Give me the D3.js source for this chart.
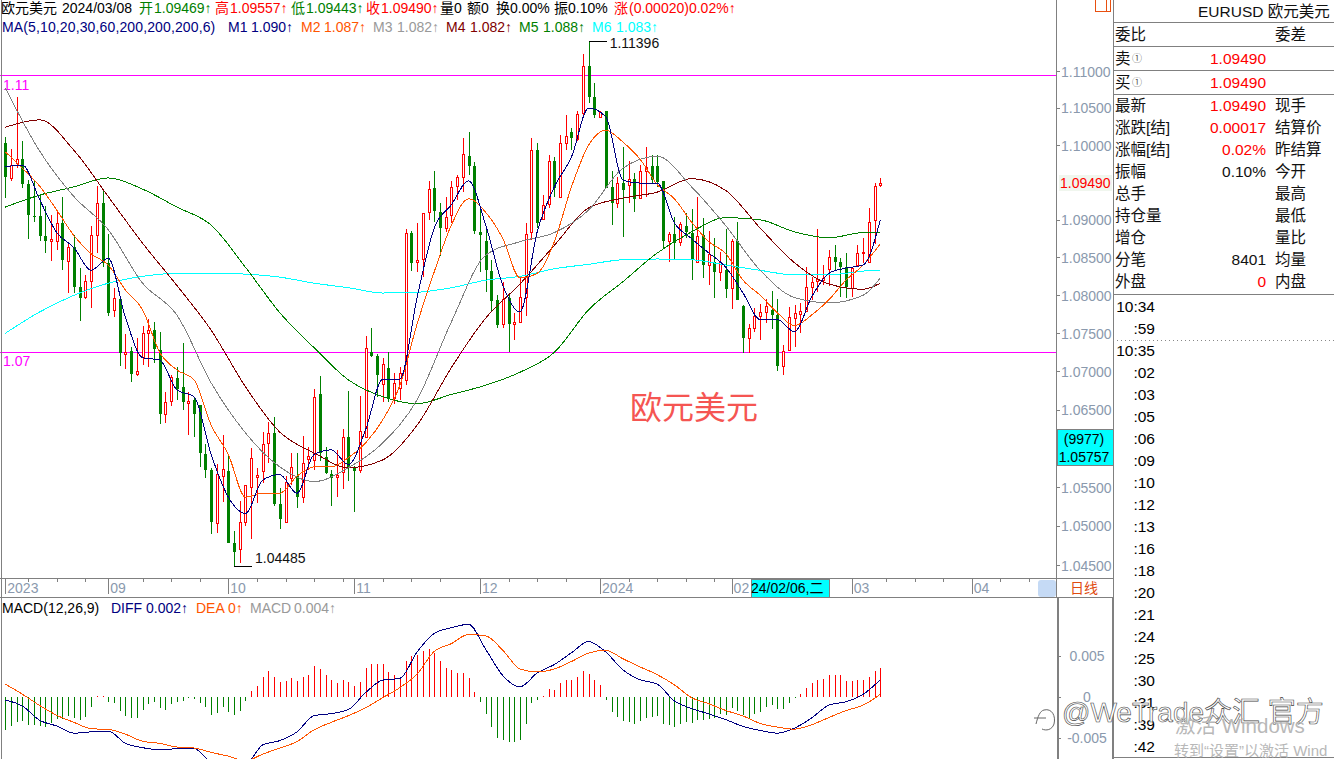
<!DOCTYPE html>
<head>
  <meta charset="utf-8">
  <script src="https://cdn.jsdelivr.net/npm/d3@7"></script>
  <style>
    html, body {
      margin: 0;
      width: 100%;
      height: 100%;
      overflow: hidden;
      background: #fff;
    }

    svg {
      display: block;
    }

    text {
      font-family: 'Liberation Sans', 'Noto Sans CJK SC', sans-serif;
      font-size: 14px;
      dominant-baseline: central;
    }

    .frame {
      stroke: #808080;
      fill: none;
      shape-rendering: crispEdges;
    }

    .axis path {
      display: none;
    }

    .axis line {
      stroke: #808080;
      shape-rendering: crispEdges;
    }

    .axis text {
      fill: #8a99ad;
      font-size: 14px;
    }

    .ma {
      fill: none;
      stroke-width: 1;
      shape-rendering: crispEdges;
    }

    .panel text {
      font-size: 15.5px;
    }
  </style>
</head>
<body>

<svg id="chart" width="1334" height="759"></svg>

<script>
  var opens = [
    1.1003, 1.0956, 1.0976, 1.0981, 1.0948, 1.0905, 1.0905, 1.0879, 1.0873, 1.0872,
    1.0896, 1.0845, 1.0864, 1.0811, 1.0798, 1.0819, 1.0880, 1.0923, 1.0843, 1.0781,
    1.0795, 1.0723, 1.0727, 1.0697, 1.0718, 1.0750, 1.0754, 1.0728, 1.0645, 1.0662,
    1.0691, 1.0680, 1.0660, 1.0663, 1.0656, 1.0593, 1.0572, 1.0504, 1.0564, 1.0571,
    1.0478, 1.0470, 1.0505, 1.0550, 1.0563, 1.0571, 1.0607, 1.0620, 1.0528, 1.0505,
    1.0562, 1.0564, 1.0537, 1.0586, 1.0585, 1.0671, 1.0589, 1.0567, 1.0563, 1.0570,
    1.0615, 1.0576, 1.0572, 1.0615, 1.0725, 1.0720, 1.0684, 1.0705, 1.0665, 1.0678,
    1.0689, 1.0883, 1.0844, 1.0848, 1.0910, 1.0943, 1.0910, 1.0889, 1.0906, 1.0945,
    1.0957, 1.0985, 1.0972, 1.0884, 1.0872, 1.0832, 1.0794, 1.0762, 1.0797, 1.0762,
    1.0765, 1.0798, 1.0883, 1.0993, 1.0901, 1.0921, 1.0979, 1.0931, 1.1003, 1.1018,
    1.1008, 1.1043, 1.1107, 1.1065, 1.1038, 1.1046, 1.0944, 1.0922, 1.0949, 1.0947,
    1.0955, 1.0929, 1.0965, 1.0972, 1.0972, 1.0952, 1.0872, 1.0881, 1.0871, 1.0892,
    1.0883, 1.0845, 1.0880, 1.0841, 1.0844, 1.0831, 1.0833, 1.0810, 1.0872, 1.0786,
    1.0744, 1.0757, 1.0773, 1.0778, 1.0781, 1.0774, 1.0707, 1.0728, 1.0771, 1.0775,
    1.0779, 1.0811, 1.0818, 1.0821, 1.0835, 1.0851, 1.0844, 1.0837, 1.0810, 1.0840,
    1.0856, 1.0844, 1.0899, 1.09469
  ];

  var highs = [
    1.1011, 1.0995, 1.1065, 1.1005, 1.0953, 1.0952, 1.0934, 1.0918, 1.0906, 1.0913,
    1.0930, 1.0869, 1.0880, 1.0836, 1.0827, 1.0892, 1.0945, 1.0940, 1.0881, 1.0810,
    1.0798, 1.0749, 1.0732, 1.0744, 1.0760, 1.0769, 1.0765, 1.0752, 1.0673, 1.0695,
    1.0706, 1.0737, 1.0673, 1.0667, 1.0656, 1.0605, 1.0575, 1.0580, 1.0617, 1.0590,
    1.0494, 1.0532, 1.0553, 1.0600, 1.0575, 1.0621, 1.0634, 1.0640, 1.0549, 1.0564,
    1.0594, 1.0594, 1.0616, 1.0602, 1.0677, 1.0694, 1.0602, 1.0572, 1.0598, 1.0625,
    1.0675, 1.0577, 1.0668, 1.0747, 1.0757, 1.0723, 1.0718, 1.0725, 1.0698, 1.0706,
    1.0888, 1.0885, 1.0896, 1.0909, 1.0952, 1.0965, 1.0923, 1.0930, 1.0952, 1.0960,
    1.1010, 1.1018, 1.0977, 1.0913, 1.0889, 1.0847, 1.0800, 1.0818, 1.0800, 1.0777,
    1.0824, 1.0896, 1.1010, 1.1003, 1.0933, 1.0987, 1.0984, 1.1014, 1.1041, 1.1023,
    1.1046, 1.1123, 1.11396, 1.1084, 1.1046, 1.1046, 1.0965, 1.0957, 1.0997, 1.0979,
    1.0963, 1.0973, 1.0998, 1.0987, 1.0987, 1.0952, 1.0884, 1.0904, 1.0897, 1.0909,
    1.0914, 1.0930, 1.0903, 1.0885, 1.0876, 1.0857, 1.0888, 1.0875, 1.0897, 1.0787,
    1.0762, 1.0783, 1.0788, 1.0795, 1.0806, 1.0795, 1.0735, 1.0784, 1.0787, 1.0790,
    1.0837, 1.0824, 1.0888, 1.0840, 1.0860, 1.0866, 1.0849, 1.0856, 1.0837, 1.0866,
    1.0876, 1.0916, 1.0949, 1.09557
  ];

  var lows = [
    1.0929, 1.0952, 1.0969, 1.0943, 1.0875, 1.0897, 1.0872, 1.0856, 1.0845, 1.0860,
    1.0833, 1.0803, 1.0803, 1.0766, 1.0795, 1.0783, 1.0856, 1.0837, 1.0773, 1.0771,
    1.0707, 1.0703, 1.0686, 1.0694, 1.0709, 1.0706, 1.0711, 1.0632, 1.0633, 1.0655,
    1.0663, 1.0650, 1.0617, 1.0615, 1.0576, 1.0562, 1.0490, 1.0491, 1.0531, 1.0478,
    1.04485, 1.0452, 1.0500, 1.0483, 1.0530, 1.0555, 1.0581, 1.0526, 1.0496, 1.0505,
    1.0553, 1.0523, 1.0530, 1.0572, 1.0572, 1.0584, 1.0567, 1.0525, 1.0537, 1.0548,
    1.0558, 1.0518, 1.0568, 1.0615, 1.0719, 1.0667, 1.0660, 1.0660, 1.0658, 1.0663,
    1.0682, 1.0832, 1.0831, 1.0824, 1.0900, 1.0897, 1.0852, 1.0884, 1.0896, 1.0926,
    1.0937, 1.0960, 1.0881, 1.0831, 1.0804, 1.0778, 1.0757, 1.0757, 1.0725, 1.0741,
    1.0765, 1.0773, 1.0873, 1.0889, 1.0900, 1.0916, 1.0930, 1.0930, 1.0993, 1.0993,
    1.1005, 1.1036, 1.1057, 1.1036, 1.1036, 1.0943, 1.0893, 1.0916, 1.0877, 1.0922,
    1.0910, 1.0928, 1.0930, 1.0949, 1.0944, 1.0863, 1.0844, 1.0847, 1.0865, 1.0876,
    1.0820, 1.0844, 1.0823, 1.0813, 1.0797, 1.0819, 1.0797, 1.0782, 1.0794, 1.0724,
    1.0724, 1.0752, 1.0741, 1.0763, 1.0756, 1.0701, 1.0695, 1.0727, 1.0732, 1.0750,
    1.0778, 1.0794, 1.0804, 1.0813, 1.0812, 1.0833, 1.0798, 1.0797, 1.0798, 1.0837,
    1.0843, 1.0844, 1.0868, 1.09443
  ];

  var closes = [
    1.0957, 1.0973, 1.0981, 1.0947, 1.0906, 1.0904, 1.0879, 1.0872, 1.0875, 1.0896,
    1.0847, 1.0864, 1.0811, 1.0797, 1.0819, 1.0880, 1.0922, 1.0843, 1.0777, 1.0797,
    1.0724, 1.0725, 1.0697, 1.0701, 1.0750, 1.0754, 1.0729, 1.0645, 1.0660, 1.0693,
    1.0676, 1.0660, 1.0662, 1.0645, 1.0594, 1.0572, 1.0505, 1.0567, 1.0573, 1.0478,
    1.0467, 1.0505, 1.0552, 1.0588, 1.0566, 1.0606, 1.0620, 1.0528, 1.0509, 1.0557,
    1.0576, 1.0537, 1.0581, 1.0590, 1.0667, 1.0594, 1.0568, 1.0562, 1.0566, 1.0615,
    1.0576, 1.0571, 1.0623, 1.0731, 1.0720, 1.0695, 1.0710, 1.0664, 1.0685, 1.0698,
    1.0883, 1.0843, 1.0847, 1.0909, 1.0941, 1.0912, 1.0889, 1.0904, 1.0944, 1.0957,
    1.0988, 1.0972, 1.0885, 1.0880, 1.0833, 1.0792, 1.0761, 1.0795, 1.0763, 1.0765,
    1.0798, 1.0881, 1.0993, 1.0896, 1.0920, 1.0979, 1.0943, 1.1003, 1.1012, 1.1010,
    1.1042, 1.1107, 1.1065, 1.1041, 1.1045, 1.0943, 1.0922, 1.0949, 1.0940, 1.0955,
    1.0928, 1.0965, 1.0971, 1.0953, 1.0951, 1.0872, 1.0881, 1.0869, 1.0895, 1.0884,
    1.0847, 1.0879, 1.0840, 1.0855, 1.0831, 1.0844, 1.0808, 1.0872, 1.0794, 1.0744,
    1.0757, 1.0773, 1.0778, 1.0786, 1.0774, 1.0707, 1.0727, 1.0771, 1.0777, 1.0779,
    1.0811, 1.0818, 1.0821, 1.0823, 1.0851, 1.0844, 1.0837, 1.0810, 1.0836, 1.0856,
    1.0857, 1.0897, 1.0945, 1.09490
  ];

  // read every third day
  var ma5 = [
    1.0971, 1.0973, 1.0927, 1.0883, 1.0863, 1.0833, 1.0849, 1.0771, 1.0718, 1.0715,
    1.0676, 1.0667, 1.0592, 1.0537, 1.0516, 1.0559, 1.0566, 1.0542, 1.0592, 1.0598,
    1.0579, 1.0624, 1.0690, 1.0690, 1.0797, 1.0889, 1.0920, 1.0952, 1.0893, 1.0813,
    1.0778, 1.0884, 1.0944, 1.0984, 1.1050, 1.1038, 1.0953, 1.0949, 1.0949, 1.0896,
    1.0875, 1.0856, 1.0837, 1.0803, 1.0768, 1.0768, 1.0752, 1.0798, 1.0829, 1.0836,
    1.0840, 1.0900
  ];

  var ma10 = [
    1.0991, 1.0969, 1.0945, 1.0913, 1.0879, 1.0855, 1.0840, 1.0807, 1.0781, 1.0725,
    1.0702, 1.0689, 1.0630, 1.0592, 1.0537, 1.0542, 1.0542, 1.0564, 1.0576, 1.0576,
    1.0588, 1.0607, 1.0637, 1.0682, 1.0762, 1.0831, 1.0893, 1.0928, 1.0910, 1.0875,
    1.0823, 1.0829, 1.0871, 1.0944, 1.1000, 1.1020, 1.1004, 1.0981, 1.0947, 1.0928,
    1.0897, 1.0871, 1.0855, 1.0820, 1.0800, 1.0777, 1.0760, 1.0774, 1.0794, 1.0820,
    1.0840, 1.0868
  ];

  // read every sixth day, plus the last one
  var ma20 = [
    1.1077, 1.0992, 1.0931, 1.0887, 1.0816, 1.0774, 1.0685, 1.0620, 1.0576, 1.0557,
    1.0575, 1.0607, 1.0663, 1.0765, 1.0853, 1.0871, 1.0883, 1.0913, 1.0969, 1.0985,
    1.0944, 1.0892, 1.0833, 1.0797, 1.0790, 1.0800, 1.0823
  ];

  var ma30 = [
    1.1024, 1.1034, 1.0993, 1.0931, 1.0869, 1.0813, 1.0754, 1.0680, 1.0621, 1.0594,
    1.0575, 1.0585, 1.0630, 1.0705, 1.0770, 1.0815, 1.0866, 1.0916, 1.0929, 1.0937,
    1.0955, 1.0939, 1.0889, 1.0843, 1.0815, 1.0808, 1.0816
  ];

  var ma60 = [
    1.0917, 1.0933, 1.0944, 1.0956, 1.0941, 1.0917, 1.0893, 1.0837, 1.0777, 1.0731,
    1.0689, 1.0667, 1.0658, 1.0670, 1.0682, 1.0699, 1.0725, 1.0781, 1.0818, 1.0856,
    1.0884, 1.0903, 1.0900, 1.0884, 1.0876, 1.0883, 1.0883
  ];

  var ma200 = [
    1.0750, 1.0778, 1.0800, 1.0816, 1.0825, 1.0829, 1.0829, 1.0828, 1.0824, 1.0816,
    1.0810, 1.0803, 1.0804, 1.0810, 1.0820, 1.0825, 1.0835, 1.0841, 1.0847, 1.0848,
    1.0847, 1.0840, 1.0833, 1.0827, 1.0827, 1.0832, 1.0833
  ];

  // macd values are in thousandths
  var macdHist = [
    -4.08, -3.59, -3.05, -2.97, -3.38, -3.46, -3.59, -3.67, -3.17, -2.68,
    -2.68, -2.35, -2.56, -2.84, -2.47, -1.20, 0.12, 0.12, -0.62, -0.78,
    -1.73, -2.35, -2.56, -2.56, -1.61, -0.82, -0.62, -1.40, -1.53, -0.82,
    -0.62, -0.49, -0.16, -0.21, -0.70, -1.20, -2.23, -1.94, -1.24, -1.85,
    -2.18, -1.73, -0.49, 0.74, 1.36, 2.39, 3.22, 2.47, 1.77, 1.98,
    2.31, 1.98, 2.39, 2.72, 3.83, 3.42, 2.72, 2.10, 1.73, 2.10,
    1.77, 1.36, 1.85, 3.50, 4.04, 4.04, 4.00, 3.09, 2.72, 2.39,
    4.45, 4.95, 5.07, 5.56, 5.89, 5.36, 4.33, 3.59, 3.30, 2.97,
    2.97, 2.35, 0.62, -0.62, -2.06, -3.71, -4.95, -5.24, -5.52, -5.52,
    -5.24, -3.30, -0.70, -0.37, 0.10, 0.95, 0.87, 1.69, 2.10, 2.10,
    2.39, 3.22, 2.84, 2.10, 1.48, -0.37, -1.85, -2.43, -2.97, -3.09,
    -3.34, -2.97, -2.51, -2.47, -2.35, -3.26, -3.46, -3.71, -3.34, -3.09,
    -3.22, -2.84, -2.84, -2.64, -2.51, -2.06, -2.14, -1.40, -1.73, -2.23,
    -2.64, -2.06, -1.77, -1.24, -0.99, -1.44, -1.48, -0.74, -0.08, 0.41,
    1.11, 1.65, 2.10, 2.18, 2.72, 2.72, 2.68, 1.98, 1.98, 2.10,
    2.10, 2.47, 3.22, 3.59
  ];

  var macdDiff = [
    -0.37, -1.11, -2.84, -3.54, -4.41, -4.25, -4.16, -5.65, -6.18, -6.43,
    -6.31, -6.27, -7.79, -7.79, -8.12, -5.85, -5.32, -4.25, -2.27, -2.02,
    -1.53, 0.54, 2.06, 2.27, 5.48, 7.75, 8.45, 8.86, 5.81, 2.60,
    1.24, 2.93, 3.96, 5.40, 6.76, 5.48, 3.30, 2.10, 1.57, -0.49,
    -1.40, -2.06, -2.76, -3.59, -4.08, -4.41, -3.79, -2.56, -0.99, -0.58,
    0.33, 2.10
  ];

  var macdDea = [
    1.57, 0.33, -1.03, -2.23, -3.09, -3.87, -3.96, -4.53, -5.40, -5.65,
    -6.10, -6.22, -6.76, -7.21, -7.79, -6.97, -6.22, -5.44, -4.00, -3.09,
    -2.27, -1.32, -0.08, 1.15, 2.80, 5.56, 6.51, 7.63, 7.46, 5.69,
    3.42, 3.05, 3.42, 4.33, 5.36, 5.69, 4.66, 3.67, 2.72, 1.48,
    -0.08, -0.82, -1.65, -2.31, -3.22, -3.67, -3.92, -3.38, -2.51, -1.65,
    -0.99, 0.33
  ];

  var priceTicks = [1.11, 1.105, 1.10, 1.09, 1.085, 1.08, 1.075, 1.07, 1.065, 1.055, 1.05, 1.045];
  var macdTicks = [5, 0, -5];
  var macdTickLabels = {'5': '0.005', '0': '0', '-5': '-0.005'};
  var monthIdx = [0, 18, 39, 61, 83, 104, 127, 148, 169];
  var monthLabels = ['2023', '09', '10', '11', '12', '2024', '02', '03', '04'];
  var weekIdx = [4, 9, 14, 24, 29, 34, 44, 49, 54, 59, 66, 71, 76, 88, 93, 98, 109, 114, 119, 124, 154, 159, 164, 174, 179];

  var levelPrices = [1.1094, 1.0726];
  var levelLabels = ['1.11', '1.07'];

  var maEvery3 = d3.range(0, 154, 3);
  var maEvery6 = d3.range(0, 153, 6).concat(153);

  var colors = {
    up: '#ff0000', down: '#008000', navy: '#000080', orange: '#ff5500',
    gray: '#808080', maroon: '#800000', green: '#008000', cyan: '#00ffff', magenta: '#ff00ff'
  };

  var maSeries = [
    {values: ma200, idx: maEvery6, color: colors.cyan},
    {values: ma60, idx: maEvery6, color: colors.green},
    {values: ma30, idx: maEvery6, color: colors.maroon},
    {values: ma20, idx: maEvery6, color: colors.gray},
    {values: ma10, idx: maEvery3, color: colors.orange},
    {values: ma5, idx: maEvery3, color: colors.navy}
  ];

  var svg = d3.select('#chart');

  var x = d3.scaleLinear().domain([0, 153]).range([5.3, 880.3]);
  var y = d3.scaleLog().domain([1.045, 1.11]).range([565, 71]);
  var yMacd = d3.scaleLinear().domain([-5, 5]).range([738, 656]);

  function px(i) { return Math.round(x(i)); }

  function label(parent, str, xPos, yPos, color, anchor, size) {
    var t = parent.append('text')
      .attr('x', xPos)
      .attr('y', yPos)
      .attr('fill', color || '#000')
      .attr('text-anchor', anchor || 'start')
      .text(str);
    if (size) t.style('font-size', size + 'px');
    return t;
  }

  // level lines
  svg.selectAll('.level')
    .data(levelPrices)
    .enter().append('line')
    .attr('class', 'level')
    .attr('x1', 0)
    .attr('x2', 1056)
    .attr('y1', function (d) { return Math.round(y(d)) + 0.5; })
    .attr('y2', function (d) { return Math.round(y(d)) + 0.5; })
    .attr('stroke', colors.magenta)
    .attr('shape-rendering', 'crispEdges');

  levelLabels.forEach(function (d, i) {
    label(svg, d, 3, y(levelPrices[i]) + 9.5, colors.magenta);
  });

  // candles
  var candles = svg.append('g')
    .selectAll('g')
    .data(d3.range(opens.length))
    .enter().append('g')
    .attr('shape-rendering', 'crispEdges');

  candles.append('line')
    .attr('x1', function (i) { return px(i) + 0.5; })
    .attr('x2', function (i) { return px(i) + 0.5; })
    .attr('y1', function (i) { return y(highs[i]); })
    .attr('y2', function (i) { return y(lows[i]); })
    .attr('stroke', function (i) { return closes[i] >= opens[i] ? colors.up : colors.down; });

  candles.append('rect')
    .attr('x', function (i) { return closes[i] >= opens[i] ? px(i) - 0.5 : px(i) - 1; })
    .attr('width', function (i) { return closes[i] >= opens[i] ? 2 : 3; })
    .attr('y', function (i) { return Math.round(y(Math.max(opens[i], closes[i]))) + (closes[i] >= opens[i] ? 0.5 : 0); })
    .attr('height', function (i) { return Math.max(1, Math.round(Math.abs(y(opens[i]) - y(closes[i])))); })
    .attr('fill', function (i) { return closes[i] >= opens[i] ? '#fff' : colors.down; })
    .attr('stroke', function (i) { return closes[i] >= opens[i] ? colors.up : 'none'; });

  // moving averages
  maSeries.forEach(function (s) {
    var line = d3.line()
      .x(function (d, i) { return x(s.idx[i]); })
      .y(function (d) { return y(d); })
      .curve(d3.curveMonotoneX);
    svg.append('path')
      .attr('class', 'ma')
      .attr('stroke', s.color)
      .attr('d', line(s.values));
  });

  // high and low marks
  var highAt = highs.indexOf(d3.max(highs));
  var lowAt = lows.indexOf(d3.min(lows));

  svg.append('line')
    .attr('x1', x(highAt)).attr('x2', x(highAt) + 18)
    .attr('y1', y(highs[highAt])).attr('y2', y(highs[highAt]))
    .attr('stroke', '#000').attr('shape-rendering', 'crispEdges');
  label(svg, highs[highAt].toFixed(5), x(highAt) + 21, y(highs[highAt]) + 1, '#111');

  svg.append('line')
    .attr('x1', x(lowAt)).attr('x2', x(lowAt) + 18)
    .attr('y1', y(lows[lowAt])).attr('y2', y(lows[lowAt]))
    .attr('stroke', '#000').attr('shape-rendering', 'crispEdges');
  label(svg, lows[lowAt].toFixed(5), x(lowAt) + 21, y(lows[lowAt]) - 8, '#111');

  label(svg, '欧元美元', 630, 408, '#f55552', 'start', 32);

  // frame
  [[1, 0, 1, 759], [1056.5, 0, 1056.5, 598], [1113.5, 0, 1113.5, 759],
   [0, 578.5, 1113, 578.5], [0, 597.5, 1113, 597.5],
   [1113, 22.5, 1334, 22.5], [1113, 46.5, 1334, 46.5], [1113, 70.5, 1334, 70.5],
   [1113, 94.5, 1334, 94.5], [1113, 294.5, 1334, 294.5], [1113, 757.5, 1334, 757.5]
  ].forEach(function (d) {
    svg.append('line').attr('class', 'frame')
      .attr('x1', d[0]).attr('y1', d[1]).attr('x2', d[2]).attr('y2', d[3]);
  });

  svg.append('line').attr('class', 'frame')
    .attr('x1', 1057.5).attr('y1', 598).attr('x2', 1057.5).attr('y2', 759).attr('stroke-width', 2);
  svg.append('line').attr('class', 'frame')
    .attr('x1', 1113).attr('y1', 598).attr('x2', 1113).attr('y2', 759).attr('stroke-width', 2);
  svg.append('line')
    .attr('x1', 1113).attr('y1', 340.5).attr('x2', 1334).attr('y2', 340.5)
    .attr('stroke', '#888').attr('stroke-dasharray', '1,3');

  // price axis
  svg.append('g')
    .attr('class', 'axis')
    .attr('transform', 'translate(1056,0)')
    .call(d3.axisRight(y).tickValues(priceTicks).tickSize(4).tickPadding(1)
      .tickFormat(function (d) { return d.toFixed(5); }))
    .selectAll('text')
    .attr('dy', 0);

  svg.append('rect')
    .attr('x', 1059).attr('y', 175).attr('width', 53).attr('height', 16)
    .attr('fill', '#f0f6ee');
  label(svg, closes[closes.length - 1].toFixed(5), 1060, 183, colors.up);

  svg.append('rect')
    .attr('x', 1057).attr('y', 429.5).attr('width', 56).attr('height', 36)
    .attr('fill', colors.cyan).attr('stroke', '#808080').attr('shape-rendering', 'crispEdges');
  label(svg, '(9977)', 1084, 439, '#000', 'middle');
  label(svg, '1.05757', 1084, 457, '#000', 'middle');

  // time axis
  svg.append('g')
    .attr('class', 'axis')
    .attr('transform', 'translate(0,578)')
    .call(d3.axisBottom(x).tickValues(weekIdx).tickSize(4).tickFormat(''));
  svg.append('g')
    .attr('class', 'axis')
    .attr('transform', 'translate(0,578)')
    .call(d3.axisBottom(x).tickValues(monthIdx).tickSize(16).tickFormat(''));

  monthLabels.forEach(function (d, i) {
    label(svg, d, x(monthIdx[i]) + 2, 588, '#8a99ad');
  });

  svg.append('rect')
    .attr('x', 751).attr('y', 579).attr('width', 78).attr('height', 18)
    .attr('fill', colors.cyan).attr('stroke', '#808080').attr('shape-rendering', 'crispEdges');
  label(svg, '24/02/06,二', 751, 588, '#000');

  svg.append('rect')
    .attr('x', 1038).attr('y', 580).attr('width', 18).attr('height', 17).attr('rx', 3)
    .attr('fill', '#c5daf5');
  label(svg, '日线', 1070, 588, '#e04b10');

  // macd panel
  svg.selectAll('.hist')
    .data(macdHist)
    .enter().append('line')
    .attr('class', 'hist')
    .attr('x1', function (d, i) { return px(i) + 0.5; })
    .attr('x2', function (d, i) { return px(i) + 0.5; })
    .attr('y1', yMacd(0))
    .attr('y2', function (d) { return yMacd(d); })
    .attr('stroke', function (d) { return d >= 0 ? colors.up : colors.down; })
    .attr('shape-rendering', 'crispEdges');

  var macdLine = d3.line()
    .x(function (d, i) { return x(maEvery3[i]); })
    .y(function (d) { return yMacd(d); })
    .curve(d3.curveMonotoneX);

  svg.append('path').attr('class', 'ma').attr('stroke', colors.navy).attr('d', macdLine(macdDiff));
  svg.append('path').attr('class', 'ma').attr('stroke', colors.orange).attr('d', macdLine(macdDea));

  svg.append('g')
    .attr('class', 'axis')
    .attr('transform', 'translate(1058,0)')
    .call(d3.axisRight(yMacd).tickValues(macdTicks).tickSize(3).tickPadding(0)
      .tickFormat(function (d) { return macdTickLabels[d]; }))
    .selectAll('text')
    .attr('text-anchor', 'middle')
    .attr('x', 29)
    .attr('dy', '-1px');

  // header lines
  [['欧元美元', 1, '#000'], ['2024/03/08', 62, '#000'],
   ['开', 139, colors.down], ['1.09469↑', 154, colors.down],
   ['高', 215, colors.up], ['1.09557↑', 230, colors.up],
   ['低', 291, colors.down], ['1.09443↑', 306, colors.down],
   ['收', 366, colors.up], ['1.09490↑', 381, colors.up],
   ['量', 440, '#000'], ['0', 454, '#000'],
   ['额', 467, '#000'], ['0', 481, '#000'],
   ['换', 496, '#000'], ['0.00%', 510, '#000'],
   ['振', 554, '#000'], ['0.10%', 568, '#000'],
   ['涨', 614, colors.up], ['(0.00020)0.02%↑', 629, colors.up]
  ].forEach(function (d) { label(svg, d[0], d[1], 8, d[2]); });

  [['MA(5,10,20,30,60,200,200,200,6)', 2, '#000080'],
   ['M1', 228, colors.navy], ['1.090↑', 251, colors.navy],
   ['M2', 301, colors.orange], ['1.087↑', 324, colors.orange],
   ['M3', 373, '#999'], ['1.082↑', 397, '#999'],
   ['M4', 446, colors.maroon], ['1.082↑', 470, colors.maroon],
   ['M5', 519, colors.green], ['1.088↑', 543, colors.green],
   ['M6', 592, colors.cyan], ['1.083↑', 616, colors.cyan]
  ].forEach(function (d) {
    var t = label(svg, d[0], d[1], 27, d[2]);
    if (d[1] === 2) t.style('letter-spacing', '0.13px');
  });

  [['MACD(12,26,9)', 2, '#000'],
   ['DIFF', 111, colors.navy], ['0.002↑', 146, colors.navy],
   ['DEA', 196, colors.orange], ['0↑', 228, colors.orange],
   ['MACD', 250, '#999'], ['0.004↑', 294, '#999']
  ].forEach(function (d) { label(svg, d[0], d[1], 608, d[2]); });

  // quote panel
  var rowY = [34, 58, 82, 105, 127, 149, 171, 193, 215, 237, 259, 281];
  var leftLabels = ['委比', '卖', '买', '最新', '涨跌[结]', '涨幅[结]', '振幅', '总手', '持仓量', '增仓', '分笔', '外盘'];
  var rightLabels = ['委差', '', '', '现手', '结算价', '昨结算', '今开', '最高', '最低', '量比', '均量', '内盘'];
  var quoteValues = ['', '1.09490', '1.09490', '1.09490', '0.00017', '0.02%', '0.10%', '', '', '', '8401', '0'];
  var quoteColors = ['', colors.up, colors.up, colors.up, colors.up, colors.up, '#111', '', '', '', '#111', colors.up];

  var timeLabels = ['10:34', ':59', '10:35', ':02', ':03', ':05', ':06', ':09', ':10', ':12', ':13', ':16',
    ':18', ':20', ':21', ':24', ':25', ':30', ':31', ':39', ':42'];

  var panel = svg.append('g').attr('class', 'panel');

  label(panel, 'EURUSD 欧元美元', 1198, 11, '#111');

  rowY.forEach(function (d, i) {
    label(panel, leftLabels[i], 1115, d, '#111');
    label(panel, rightLabels[i], 1275, d, '#111');
    label(panel, quoteValues[i], 1266, d, quoteColors[i], 'end');
  });

  // small circled one after the bid and ask labels
  [58, 82].forEach(function (d) {
    label(svg, '①', 1132, d, '#555', 'start', 10);
  });

  timeLabels.forEach(function (d, i) {
    label(panel, d, 1155, 306 + 22 * i, '#000', 'end');
  });

  // layout button
  svg.append('rect')
    .attr('x', 1095.5).attr('y', -1).attr('width', 15).attr('height', 12)
    .attr('fill', 'none').attr('stroke', '#e85010').attr('shape-rendering', 'crispEdges');
  svg.append('line')
    .attr('x1', 1106.5).attr('x2', 1106.5).attr('y1', 0).attr('y2', 11)
    .attr('stroke', '#e85010').attr('shape-rendering', 'crispEdges');

  // overlays
  label(svg, '@WeTrade众汇 官方', 1062, 712, '#fff', 'start', 28)
    .attr('stroke', '#444')
    .attr('stroke-width', 0.6);
  label(svg, '激活 Windows', 1175, 725, '#b8b8b8', 'start', 20.5);
  label(svg, '转到“设置”以激活 Wind', 1174, 750, '#b8b8b8', 'start', 15);
  svg.append('path')
    .attr('d', 'M1036 724 C1038 716 1040 711 1044 710 C1052 708 1056 716 1054 724 C1052 730 1046 731 1042 729 M1034 718 L1046 718')
    .attr('fill', 'none')
    .attr('stroke', '#666');
</script>
</body>
